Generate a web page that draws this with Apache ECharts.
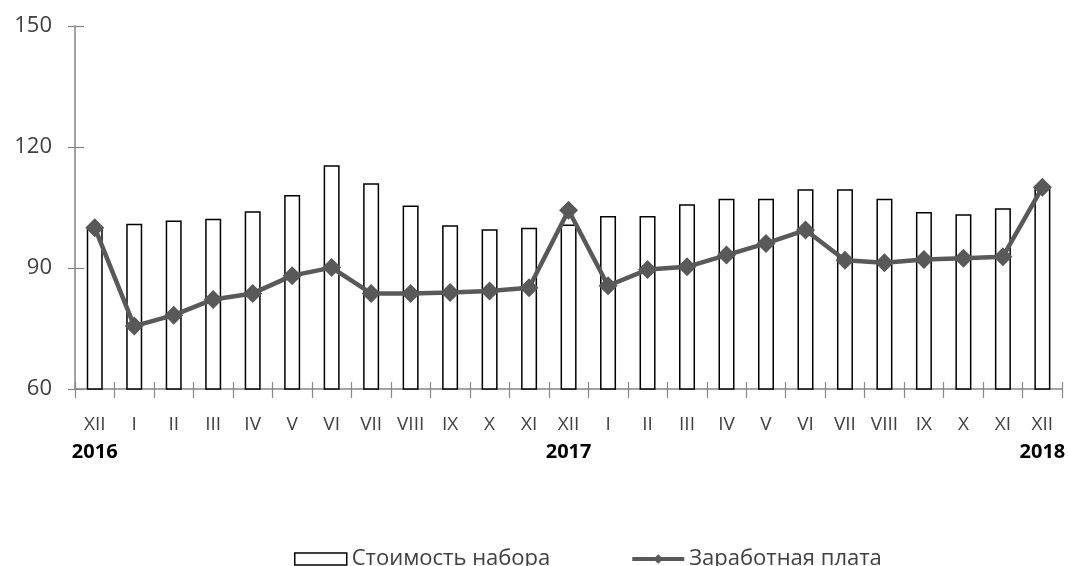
<!DOCTYPE html>
<html>
<head>
<meta charset="utf-8">
<script src="https://cdn.jsdelivr.net/npm/echarts@6/dist/echarts.min.js"></script>
<style>
html,body{margin:0;padding:0;background:#fff;}
#c{width:1068px;height:566px;}
</style>
</head>
<body>
<div id="c"></div>
<script>
var categories = ['XII','I','II','III','IV','V','VI','VII','VIII','IX','X','XI','XII','I','II','III','IV','V','VI','VII','VIII','IX','X','XI','XII'];
var years = ['2016','','','','','','','','','','','','2017','','','','','','','','','','','','2018'];
var costSet = [100, 101.0, 101.8, 102.2, 104.1, 108.1, 115.5, 111.0, 105.5, 100.6, 99.6, 100.0, 100.8, 102.9, 102.9, 105.8, 107.2, 107.2, 109.5, 109.5, 107.2, 103.9, 103.3, 104.8, 110];
var wages = [100, 75.6, 78.3, 82.2, 83.7, 88.1, 90.1, 83.7, 83.7, 83.9, 84.3, 85.1, 104.3, 85.6, 89.6, 90.3, 93.2, 96.1, 99.4, 91.9, 91.3, 92.1, 92.4, 92.8, 110];
var yTicks = {min: 60, max: 150, interval: 30};
var seriesNames = ['Стоимость набора', 'Заработная плата'];

var font = '"Open Sans", "Noto Sans", sans-serif';
var chart = echarts.init(document.getElementById('c'));
chart.setOption({
  animation: false,
  textStyle: {fontFamily: font},
  grid: {left: 75, top: 26, width: 1000, height: 363, containLabel: false},
  legend: {
    left: 289, top: 543, itemGap: 80, itemWidth: 52, itemHeight: 12,
    textStyle: {fontSize: 22, color: '#404040', fontFamily: font},
    data: [
      {name: seriesNames[0], icon: 'rect', itemStyle: {color: '#fff', borderColor: '#000', borderWidth: 1.5}},
      {name: seriesNames[1], lineStyle: {width: 4, color: '#595959'}, itemStyle: {color: '#595959'}}
    ]
  },
  xAxis: [{
    type: 'category', data: categories, boundaryGap: true,
    axisLine: {lineStyle: {color: '#868686', width: 1.5}},
    axisTick: {show: true, inside: false, length: 9, alignWithLabel: false, lineStyle: {color: '#868686', width: 1.2}},
    axisLabel: {
      interval: 0, margin: 22, fontSize: 19, color: '#404040', fontFamily: font, lineHeight: 27,
      formatter: function (v, i) { return years[i] ? v + '\n{y|' + years[i] + '}' : v; },
      rich: {y: {fontSize: 20, fontWeight: 'bold', color: '#000', lineHeight: 28, fontFamily: font}}
    }
  }, {
    type: 'category', data: categories, position: 'bottom', boundaryGap: true,
    axisLine: {show: false},
    axisTick: {show: true, inside: true, length: 7, lineStyle: {color: '#868686', width: 1.2}},
    axisLabel: {show: false}
  }],
  yAxis: [{
    type: 'value', min: yTicks.min, max: yTicks.max, interval: yTicks.interval,
    splitLine: {show: false},
    axisLine: {show: true, lineStyle: {color: '#868686', width: 1.5}},
    axisTick: {show: true, length: 7, lineStyle: {color: '#868686', width: 1.2}},
    axisLabel: {margin: 23, fontSize: 22, color: '#404040', fontFamily: font}
  }, {
    type: 'value', min: yTicks.min, max: yTicks.max, interval: yTicks.interval, position: 'left',
    splitLine: {show: false},
    axisLine: {show: false},
    axisTick: {show: true, inside: true, length: 9, lineStyle: {color: '#868686', width: 1.2}},
    axisLabel: {show: false}
  }],
  series: [{
    name: seriesNames[0], type: 'bar', data: costSet, barWidth: 16,
    itemStyle: {color: '#fff', borderColor: '#000', borderWidth: 1.5}
  }, {
    name: seriesNames[1], type: 'line', data: wages, z: 5,
    symbol: 'diamond', symbolSize: 19,
    lineStyle: {color: '#595959', width: 4.5},
    itemStyle: {color: '#595959'}
  }]
});
</script>
</body>
</html>
